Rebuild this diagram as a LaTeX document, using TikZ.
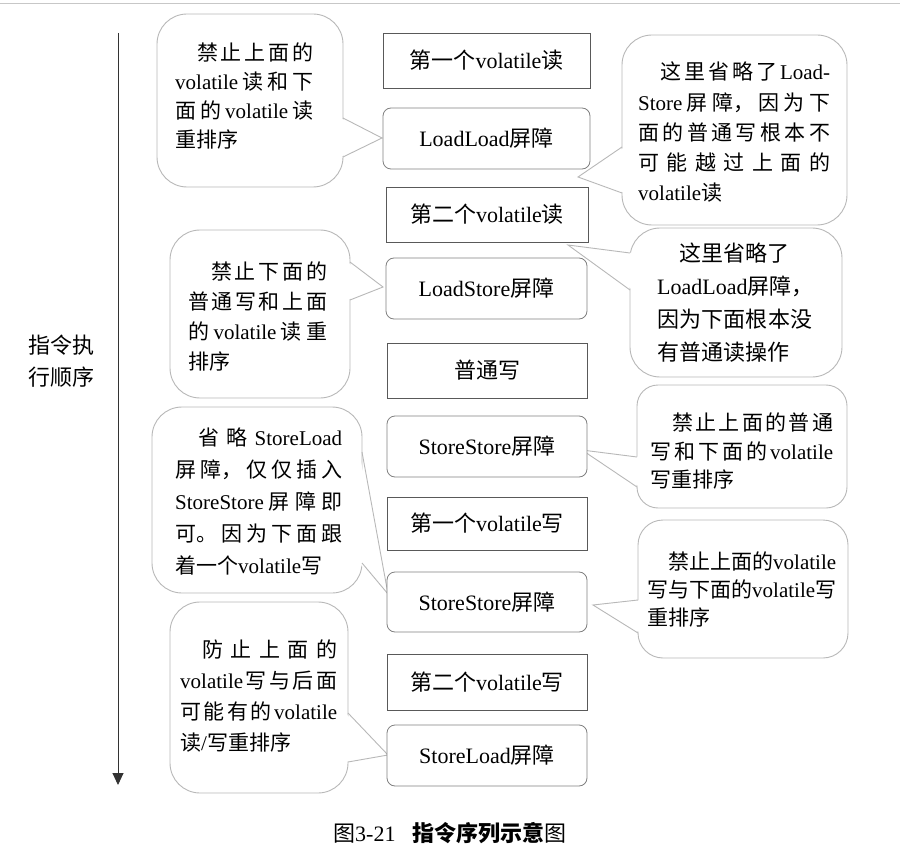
\documentclass[tikz,border=0pt]{standalone}
\usepackage{fontspec}
\setmainfont{Liberation Serif}
\newfontfamily\cjk{Noto Sans CJK SC}
\usetikzlibrary{arrows.meta}
% automatic switch to the CJK font for CJK characters
\chardef\CJKcls=10
\newcount\cjkc
\def\setcjkrange#1#2{\cjkc=#1\relax\loop\XeTeXcharclass\cjkc=\CJKcls\advance\cjkc by 1\relax\ifnum\cjkc<#2\relax\repeat}
\setcjkrange{"3000}{"3040}
\setcjkrange{"4E00}{"A000}
\setcjkrange{"FF00}{"FFF0}
\XeTeXinterchartoks 0 \CJKcls = {\begingroup\cjk}
\XeTeXinterchartoks 4095 \CJKcls = {\begingroup\cjk}
\XeTeXinterchartoks \CJKcls 0 = {\endgroup}
\XeTeXinterchartoks \CJKcls 4095 = {\endgroup}
\XeTeXinterchartokenstate=1
\newcommand\jline[2]{\makebox[#1][s]{#2}}
\tikzset{
  rectbox/.style={draw=black!65, line width=0.8pt, fill=white, inner sep=0pt, font=\fontsize{22}{26}\selectfont},
  roundbox/.style={rectbox, draw=black!50, rounded corners=8pt},
  bubble/.style={draw=black!28, line width=0.9pt, fill=white, rounded corners=30pt, inner sep=0pt},
  bubbleline/.style={draw=black!28, line width=0.9pt},
  ctext/.style={align=left, anchor=west, inner sep=0pt, font=\fontsize{21}{#1}\selectfont},
  ordertext/.style={align=left, anchor=west, inner sep=0pt, font=\fontsize{22}{32}\selectfont},
  orderarrow/.style={draw=black!80, line width=0.9pt, -{Triangle[length=12pt,width=11pt]}},
}
\begin{document}
\begin{tikzpicture}[x=1pt,y=-1pt]
\useasboundingbox (0,0) rectangle (900,853);
% top rule of the page
\coordinate (tl) at (0,4);
\coordinate (tr) at (900,4);
\draw[black!22, line width=1pt] (tl) -- (tr);
% execution order arrow
\coordinate (atop) at (118,33);
\coordinate (abot) at (118,785);
\draw[orderarrow] (atop) -- (abot);
\node[ordertext] (lab) at (28,361) {指令执\\行顺序};

% ---- callouts on the left ----
\node[bubble, minimum width=186pt, minimum height=173pt] (c1) at (250,100.5) {};
\coordinate (c1a) at (343,118); \coordinate (c1b) at (343,157); \coordinate (t1) at (382,138);
\fill[white] ([xshift=-3pt]c1a) -- (t1) -- ([xshift=-3pt]c1b) -- cycle;
\draw[bubbleline] (c1a) -- (t1) -- (c1b);
\node[ctext=29] (c1t) at (175,96.5) {\jline{138pt}{\hspace*{22pt}禁\hfill 止\hfill 上\hfill 面\hfill 的}\\\jline{138pt}{volatile\hfill 读\hfill 和\hfill 下}\\\jline{138pt}{面\hfill 的\hfill volatile\hfill 读}\\重排序};

\node[bubble, minimum width=180pt, minimum height=168pt] (c3) at (260,314) {};
\coordinate (c3a) at (350,262); \coordinate (c3b) at (350,300); \coordinate (t3) at (383,287);
\fill[white] ([xshift=-3pt]c3a) -- (t3) -- ([xshift=-3pt]c3b) -- cycle;
\draw[bubbleline] (c3a) -- (t3) -- (c3b);
\node[ctext=30] (c3t) at (188,317) {\jline{139pt}{\hspace*{23pt}禁\hfill 止\hfill 下\hfill 面\hfill 的}\\\jline{139pt}{普\hfill 通\hfill 写\hfill 和\hfill 上\hfill 面}\\\jline{139pt}{的\hfill volatile\hfill 读\hfill 重}\\排序};

\node[bubble, minimum width=210pt, minimum height=186pt] (c5) at (257,500) {};
\coordinate (c5a) at (362,452); \coordinate (c5b) at (362,563); \coordinate (t5) at (388,594);
\fill[white] ([xshift=-3pt]c5a) -- (t5) -- ([xshift=-3pt]c5b) -- cycle;
\draw[bubbleline] (c5a) -- (t5) -- (c5b);
\node[ctext=32] (c5t) at (175,501) {\jline{167pt}{\hspace*{23pt}省\hfill 略\hfill StoreLoad}\\\jline{167pt}{屏\hfill 障，\hfill 仅\hfill 仅\hfill 插\hfill 入}\\\jline{167pt}{StoreStore\hfill 屏\hfill 障\hfill 即}\\\jline{167pt}{可。\hfill 因\hfill 为\hfill 下\hfill 面\hfill 跟}\\着一个volatile写};

\node[bubble, minimum width=178pt, minimum height=191pt] (c8) at (259,697.5) {};
\coordinate (c8a) at (348,713); \coordinate (c8b) at (348,762); \coordinate (t8) at (388,755);
\fill[white] ([xshift=-3pt]c8a) -- (t8) -- ([xshift=-3pt]c8b) -- cycle;
\draw[bubbleline] (c8a) -- (t8) -- (c8b);
\node[ctext=30.7] (c8t) at (180,696) {\jline{157pt}{\hspace*{22pt}防\hfill 止\hfill 上\hfill 面\hfill 的}\\\jline{157pt}{volatile\hfill 写\hfill 与\hfill 后\hfill 面}\\\jline{157pt}{可\hfill 能\hfill 有\hfill 的\hfill volatile}\\读/写重排序};

% ---- callouts on the right ----
\node[bubble, minimum width=225pt, minimum height=190pt] (c2) at (734.5,130) {};
\coordinate (c2a) at (622,147); \coordinate (c2b) at (622,193); \coordinate (t2) at (578,177);
\fill[white] ([xshift=3pt]c2a) -- (t2) -- ([xshift=3pt]c2b) -- cycle;
\draw[bubbleline] (c2a) -- (t2) -- (c2b);
\node[ctext=30.25] (c2t) at (638,132.5) {\jline{192pt}{\hspace*{22pt}这\hfill 里\hfill 省\hfill 略\hfill 了\hfill Load-}\\\jline{192pt}{Store\hfill 屏\hfill 障，\hfill 因\hfill 为\hfill 下}\\\jline{192pt}{面\hfill 的\hfill 普\hfill 通\hfill 写\hfill 根\hfill 本\hfill 不}\\\jline{192pt}{可\hfill 能\hfill 越\hfill 过\hfill 上\hfill 面\hfill 的}\\volatile读};

\node[bubble, minimum width=212pt, minimum height=149pt] (c4) at (736,302.5) {};
\coordinate (c4a) at (630,253); \coordinate (c4b) at (630,290); \coordinate (t4) at (568,245);
\fill[white] ([xshift=3pt]c4a) -- (t4) -- ([xshift=3pt]c4b) -- cycle;
\draw[bubbleline] (c4a) -- (t4) -- (c4b);
\node[ctext=33, font=\fontsize{22}{33}\selectfont] (c4t) at (657,302.5) {\hspace*{22pt}这里省略了\\LoadLoad屏障，\\\jline{155pt}{因\hfill 为\hfill 下\hfill 面\hfill 根\hfill 本\hfill 没}\\有普通读操作};

\node[bubble, rounded corners=21pt, minimum width=210pt, minimum height=123pt] (c6) at (742,446.5) {};
\coordinate (c6a) at (637,457); \coordinate (c6b) at (637,487); \coordinate (t6) at (582,450);
\fill[white] ([xshift=3pt]c6a) -- (t6) -- ([xshift=3pt]c6b) -- cycle;
\draw[bubbleline] (c6a) -- (t6) -- (c6b);
\node[ctext=28.5] (c6t) at (650,451.5) {\jline{183pt}{\hspace*{22pt}禁\hfill 止\hfill 上\hfill 面\hfill 的\hfill 普\hfill 通}\\\jline{183pt}{写\hfill 和\hfill 下\hfill 面\hfill 的\hfill volatile}\\写重排序};

\node[bubble, rounded corners=25pt, minimum width=210pt, minimum height=138pt] (c7) at (743,589) {};
\coordinate (c7a) at (638,600); \coordinate (c7b) at (638,633); \coordinate (t7) at (593,605);
\fill[white] ([xshift=3pt]c7a) -- (t7) -- ([xshift=3pt]c7b) -- cycle;
\draw[bubbleline] (c7a) -- (t7) -- (c7b);
\node[ctext=28] (c7t) at (647,590) {\hspace*{21pt}禁止上面的volatile\\写与下面的volatile写\\重排序};

% ---- instruction sequence ----
\node[rectbox, minimum width=207pt, minimum height=55pt] (b1) at (486.5,60.5) {第一个volatile读};
\node[roundbox, minimum width=207pt, minimum height=61pt] (b2) at (486.5,138.5) {LoadLoad屏障};
\node[rectbox, minimum width=202pt, minimum height=55pt] (b3) at (487,214.5) {第二个volatile读};
\node[roundbox, minimum width=201pt, minimum height=61pt] (b4) at (486.5,288.5) {LoadStore屏障};
\node[rectbox, minimum width=200pt, minimum height=55pt] (b5) at (487,370.5) {普通写};
\node[roundbox, minimum width=200pt, minimum height=61pt] (b6) at (487,446.5) {StoreStore屏障};
\node[rectbox, minimum width=200pt, minimum height=53pt] (b7) at (487,523.5) {第一个volatile写};
\node[roundbox, minimum width=200pt, minimum height=60pt] (b8) at (487,602) {StoreStore屏障};
\node[rectbox, minimum width=200pt, minimum height=56pt] (b9) at (487,682) {第二个volatile写};
\node[roundbox, minimum width=200pt, minimum height=61pt] (b10) at (487,755.5) {StoreLoad屏障};

% caption
\node[anchor=west, inner sep=0pt, font=\fontsize{22}{26}\selectfont] (cap) at (333,833) {图3-21\hspace{17pt}{\bfseries 指令序列示意}图};
\end{tikzpicture}
\end{document}
